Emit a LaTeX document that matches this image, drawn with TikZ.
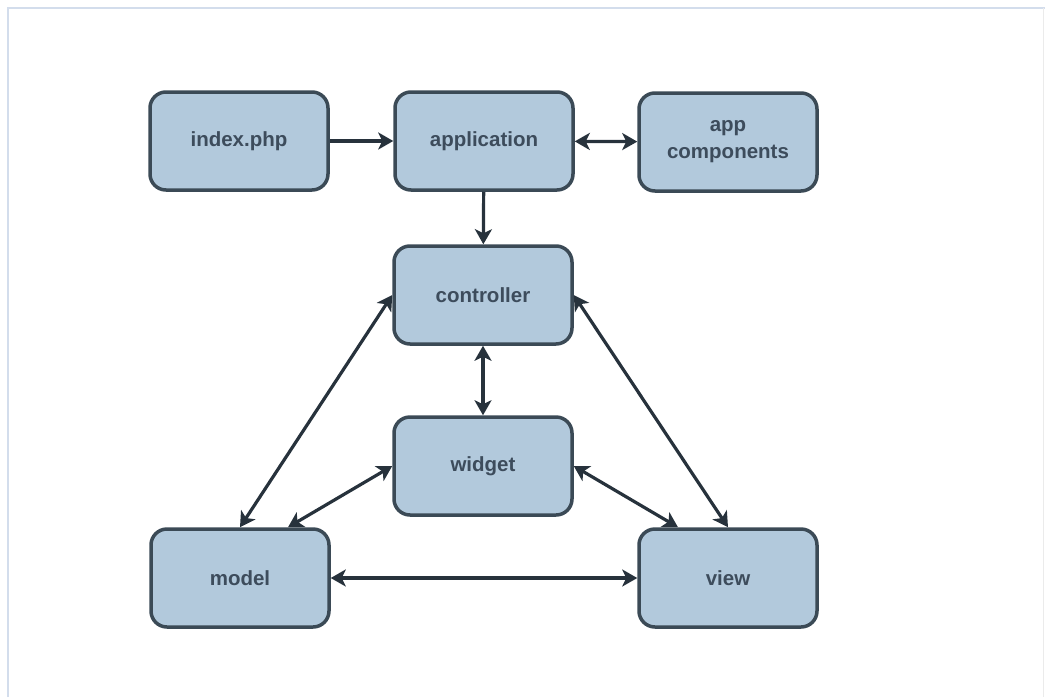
\documentclass[tikz,border=0pt]{standalone}
\usepackage{fontspec}
\setmainfont{Liberation Sans}
\usetikzlibrary{arrows.meta}
\definecolor{boxfill}{HTML}{B2C9DC}
\definecolor{boxline}{HTML}{3B4A56}
\definecolor{boxtext}{HTML}{3D4C5C}
\definecolor{arrowcol}{HTML}{27323C}
\definecolor{frameblue}{HTML}{D3DDEC}
\definecolor{framegrey}{HTML}{EBEBEB}
\tikzset{
  tip/.tip={Stealth[length=15pt,width=17pt,inset=4pt]},
  blk/.style={draw=boxline, fill=boxfill, line width=3.5pt, rounded corners=16pt,
    minimum width=178pt, minimum height=98pt, inner sep=0pt,
    font=\fontsize{20.5}{27}\selectfont\bfseries, text=boxtext, align=center},
  conn/.style={draw=arrowcol, line width=3.2pt, -tip},
  bconn/.style={draw=arrowcol, line width=3.2pt, tip-tip},
}
\begin{document}
\begin{tikzpicture}[x=1pt,y=-1pt]
\useasboundingbox (0,0) rectangle (1045,697);
\draw[frameblue, line width=1.2pt] (8,697) -- (8,8) -- (1045,8);
\draw[framegrey, line width=1.2pt] (1043.5,8) -- (1043.5,697);

\node[blk] (index) at (239,141) {index.php};
\node[blk] (app) at (484,141) {application};
\node[blk] (appc) at (728,142) {app\\components};
\node[blk] (ctrl) at (483,295) {controller};
\node[blk] (widget) at (483,466) {widget};
\node[blk] (model) at (240,578) {model};
\node[blk] (view) at (728,578) {view};

\draw[conn] (index) -- (app);
\draw[bconn] (app) -- (appc);
\draw[conn] (app) -- (ctrl);
\draw[bconn] (ctrl) -- (widget);
\draw[bconn] (ctrl.west) -- (model.north);
\draw[bconn] (ctrl.east) -- (view.north);
\draw[bconn] (widget.west) -- ([xshift=48pt]model.north);
\draw[bconn] (widget.east) -- ([xshift=-50pt]view.north);
\draw[bconn] (model) -- (view);
\end{tikzpicture}
\end{document}
